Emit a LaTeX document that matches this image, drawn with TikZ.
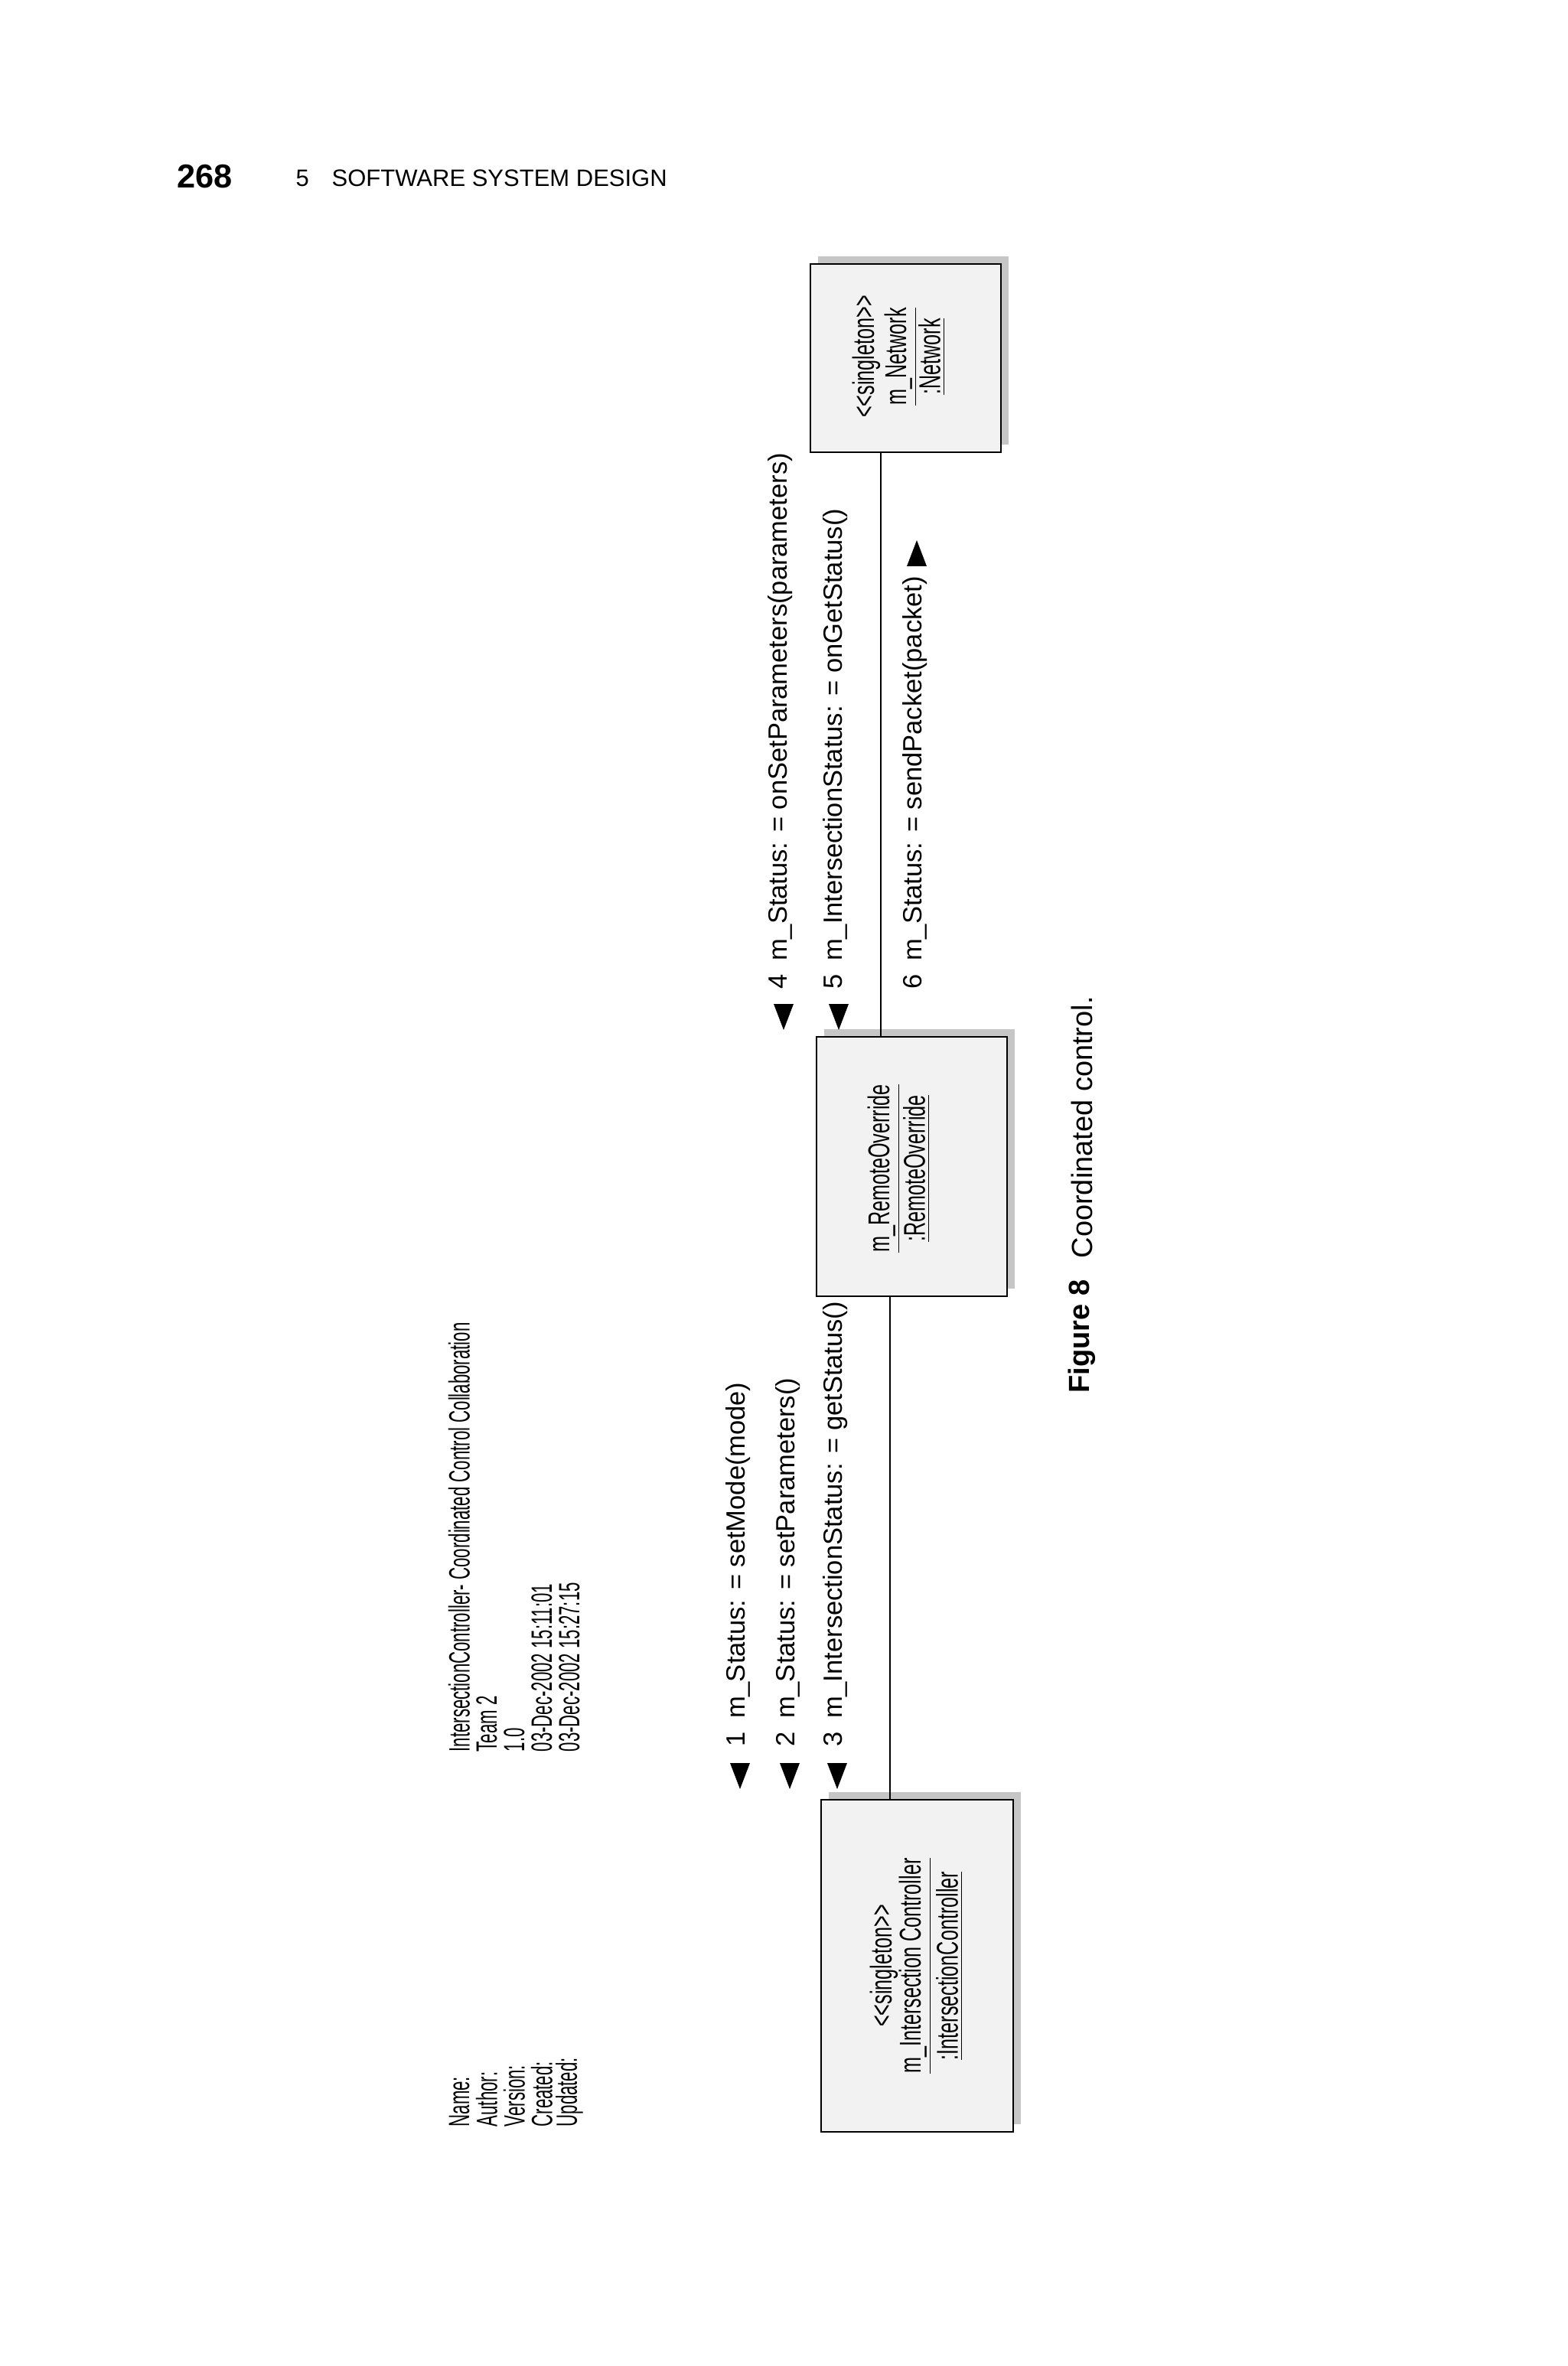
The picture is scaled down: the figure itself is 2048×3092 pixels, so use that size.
\documentclass[tikz,border=0pt]{standalone}
\usepackage{fontspec}
\setmainfont{Liberation Sans}
\newfontfamily\condA[FakeStretch=0.58]{Liberation Sans}
\newfontfamily\condB[FakeStretch=0.64]{Liberation Sans}
\begin{document}
\begin{tikzpicture}[x=0.3pt,y=-0.3pt,
  obj/.style={draw,line width=0.8pt,fill=gray!10,inner sep=0pt},
  shad/.style={fill=gray!45,draw=none},
  msg/.style={rotate=90,anchor=west,font=\fontsize{10.35}{12}\selectfont,inner sep=0pt},
  inbox/.style={rotate=90,font=\condB\fontsize{11.8}{13}\selectfont,inner sep=0pt},
  meta/.style={rotate=90,anchor=west,font=\condA\fontsize{11.5}{13}\selectfont,inner sep=0pt},
  tri/.style={fill=black,draw=none}]
\useasboundingbox (0,0) rectangle (2048,3092);
% header
\node[anchor=west,font=\bfseries\fontsize{13}{15}\selectfont,inner sep=0pt] (pg) at (231,231) {268};
\node[anchor=west,font=\fontsize{9.3}{11}\selectfont,inner sep=0pt] (ch) at (386,233) {5};
\node[anchor=west,font=\fontsize{9.3}{11}\selectfont,inner sep=0pt] (ct) at (433,233) {SOFTWARE SYSTEM DESIGN};
% shadows
\fill[shad] (1069,335) rectangle (1318,581);
\fill[shad] (1077,1345) rectangle (1326,1684);
\fill[shad] (1083,2342) rectangle (1334,2776);
% boxes
\node[obj,minimum width=74.7pt,minimum height=73.8pt] (net) at (1183.5,468) {};
\node[obj,minimum width=74.7pt,minimum height=101.7pt] (ro) at (1191.5,1524.5) {};
\node[obj,minimum width=75.3pt,minimum height=130.2pt] (ic) at (1198.5,2569) {};
% box texts
\node[inbox] (n1) at (1132,466) {<{}<singleton>{}>};
\node[inbox] (n2) at (1177,466) {\underline{m\_Network}};
\node[inbox] (n3) at (1218,466) {\underline{:Network}};
\node[inbox] (r1) at (1155,1527) {\underline{m\_RemoteOverride}};
\node[inbox] (r2) at (1198,1527) {\underline{:RemoteOverride}};
\node[inbox] (i1) at (1155,2569) {<{}<singleton>{}>};
\node[inbox] (i2) at (1196,2569) {\underline{m\_Intersection Controller}};
\node[inbox] (i3) at (1241,2569) {\underline{:IntersectionController}};
% connectors
\coordinate (c1) at (1151,0);
\coordinate (c2) at (1163,0);
\draw[line width=0.6pt] (net.south -| c1) -- (ro.north -| c1);
\draw[line width=0.6pt] (ro.south -| c2) -- (ic.north -| c2);
% metadata
\node[meta] (m1) at (600,2780) {Name:};
\node[meta] (m2) at (636,2780) {Author:};
\node[meta] (m3) at (672,2780) {Version:};
\node[meta] (m4) at (708,2780) {Created:};
\node[meta] (m5) at (744,2780) {Updated:};
\node[meta] (v1) at (600,2290) {IntersectionController- Coordinated Control Collaboration};
\node[meta] (v2) at (636,2290) {Team 2};
\node[meta] (v3) at (672,2290) {1.0};
\node[meta] (v4) at (708,2290) {03-Dec-2002 15:11:01};
\node[meta] (v5) at (744,2290) {03-Dec-2002 15:27:15};
% messages
\node[msg] (t1) at (965,2283) {1\enspace m\_Status: = setMode(mode)};
\node[msg] (t2) at (1030,2283) {2\enspace m\_Status: = setParameters()};
\node[msg] (t3) at (1092,2283) {3\enspace m\_IntersectionStatus: = getStatus()};
\node[msg] (t4) at (1020,1293) {4\enspace m\_Status: = onSetParameters(parameters)};
\node[msg] (t5) at (1092,1293) {5\enspace m\_IntersectionStatus: = onGetStatus()};
\node[msg] (t6) at (1196,1293) {6\enspace m\_Status: = sendPacket(packet)};
% arrowheads
\foreach \x in {967,1032,1094}{\fill[tri] (\x-13,2304) -- (\x+13,2304) -- (\x,2338) -- cycle;}
\foreach \x in {1024,1096}{\fill[tri] (\x-13,1312) -- (\x+13,1312) -- (\x,1346) -- cycle;}
\fill[tri] (1185,740) -- (1211,740) -- (1198,706) -- cycle;
% caption
\node[msg,font=\bfseries\fontsize{11.4}{13}\selectfont] (f1) at (1414,1821) {Figure 8};
\node[msg,font=\fontsize{11.4}{13}\selectfont] (f2) at (1414,1645) {Coordinated control.};
\end{tikzpicture}
\end{document}
